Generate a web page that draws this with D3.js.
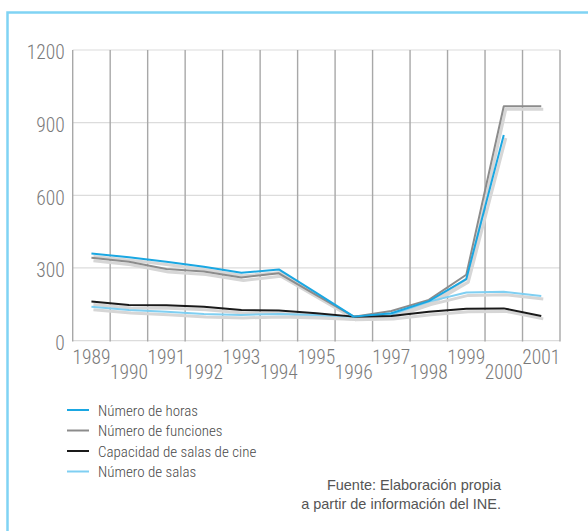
<!DOCTYPE html>
<html>
<head>
<meta charset="utf-8">
<script src="https://cdn.jsdelivr.net/npm/d3@7"></script>
<style>
    body { margin: 0; background: #fff; }
    text.tick_lbl {
        font-family: "Roboto Condensed", "DejaVu Sans Condensed", sans-serif;
        font-weight: 300;
        font-size: 19.5px;
        fill: #7a7a7a;
    }
    text.legend_lbl {
        font-family: "Roboto Condensed", "DejaVu Sans Condensed", sans-serif;
        font-weight: 300;
        font-size: 15px;
        fill: #4a4a4a;
    }
    text.source_lbl {
        font-family: "Liberation Sans", Arial, sans-serif;
        font-size: 14.5px;
        fill: #555;
    }
</style>
</head>
<body>
<svg width="588" height="531" id="chart"></svg>
<script>
// data
var years = [1989, 1990, 1991, 1992, 1993, 1994, 1995, 1996, 1997, 1998, 1999, 2000, 2001];
var horas = [360, 344, 326, 305, 280, 294, 197, 99, 113, 163, 254, 849, null];
var funciones = [342, 326, 296, 285, 261, 278, 188, 99, 122, 168, 272, 968, 968];
var capacidad = [161, 147, 146, 140, 126, 124, 113, 99, 102, 119, 132, 133, 102];
var salas = [140, 126, 119, 110, 106, 110, 106, 99, 108, 161, 199, 202, 184];
var yTicks = [0, 300, 600, 900, 1200];

var series = [
    {name: "Número de horas", values: horas, color: "#1aa7e2"},
    {name: "Número de funciones", values: funciones, color: "#8c8c8c"},
    {name: "Capacidad de salas de cine", values: capacidad, color: "#1a1a1a"},
    {name: "Número de salas", values: salas, color: "#7fcff2"}
];

var svg = d3.select("#chart");

// frame
svg.append("path")
    .attr("d", "M7.5,531 L7.5,12.5 L588,12.5")
    .attr("fill", "none")
    .attr("stroke", "#80d3f4")
    .attr("stroke-width", 2.5);

var x = d3.scaleBand().domain(years).range([72.7, 560]);
var y = d3.scaleLinear().domain([0, 1200]).range([340.6, 50]);
function cx(yr) { return x(yr) + x.bandwidth() / 2; }

// horizontal grid
svg.append("g").selectAll("line")
    .data(yTicks)
    .enter().append("line")
    .attr("x1", 72.7).attr("x2", 560)
    .attr("y1", function(d) { return y(d); })
    .attr("y2", function(d) { return y(d); })
    .attr("stroke", "#dcdcdc")
    .attr("stroke-width", 1.2);

// vertical grid at band edges
var edges = years.map(function(d) { return x(d); }).concat([x.range()[1]]);
svg.append("g").selectAll("line")
    .data(edges)
    .enter().append("line")
    .attr("x1", function(d) { return d; })
    .attr("x2", function(d) { return d; })
    .attr("y1", y(1200))
    .attr("y2", y(0) + 1)
    .attr("stroke", "#a8a8a8")
    .attr("stroke-width", 1.4);

// y axis labels
var yAxis = svg.append("g")
    .attr("transform", "translate(72.7,0)")
    .call(d3.axisLeft(y).tickValues(yTicks).tickFormat(d3.format("d")).tickSize(0).tickPadding(8));
yAxis.select(".domain").remove();
yAxis.attr("font-family", null).attr("font-size", null);
yAxis.selectAll("text")
    .attr("class", "tick_lbl")
    .attr("dy", "0.45em");

// x axis labels, staggered
var xAxis = svg.append("g")
    .attr("transform", "translate(0," + y(0) + ")")
    .call(d3.axisBottom(x).tickSize(0).tickPadding(0));
xAxis.select(".domain").remove();
xAxis.attr("font-family", null).attr("font-size", null);
xAxis.selectAll("text")
    .attr("class", "tick_lbl")
    .attr("y", function(d, i) { return i % 2 === 0 ? 23 : 38; })
    .attr("dy", null);

var line = d3.line()
    .defined(function(d) { return d != null; })
    .x(function(d, i) { return cx(years[i]); })
    .y(function(d) { return y(d); });

// shadows first
svg.append("g").selectAll("path")
    .data(series)
    .enter().append("path")
    .attr("d", function(s) { return line(s.values); })
    .attr("transform", "translate(2,3)")
    .attr("fill", "none")
    .attr("stroke", "#d6d6d6")
    .attr("stroke-width", 3)
    .attr("stroke-linejoin", "round");

// draw order: salas, capacidad, funciones, horas on top
svg.append("g").selectAll("path")
    .data(series.slice().reverse())
    .enter().append("path")
    .attr("d", function(s) { return line(s.values); })
    .attr("fill", "none")
    .attr("stroke", function(s) { return s.color; })
    .attr("stroke-width", 2)
    .attr("stroke-linejoin", "round");

// legend
var leg = svg.append("g").selectAll("g")
    .data(series)
    .enter().append("g")
    .attr("transform", function(d, i) { return "translate(0," + (410 + i * 20.5) + ")"; });
leg.append("line")
    .attr("x1", 67).attr("x2", 89)
    .attr("stroke", function(d) { return d.color; })
    .attr("stroke-width", 2);
leg.append("text")
    .attr("class", "legend_lbl")
    .attr("x", 98)
    .attr("y", 5.5)
    .text(function(d) { return d.name; });

// source note
svg.append("text")
    .attr("class", "source_lbl")
    .attr("x", 501).attr("y", 490)
    .attr("text-anchor", "end")
    .text("Fuente: Elaboración propia");
svg.append("text")
    .attr("class", "source_lbl")
    .attr("x", 501).attr("y", 509)
    .attr("text-anchor", "end")
    .text("a partir de información del INE.");
</script>
</body>
</html>
